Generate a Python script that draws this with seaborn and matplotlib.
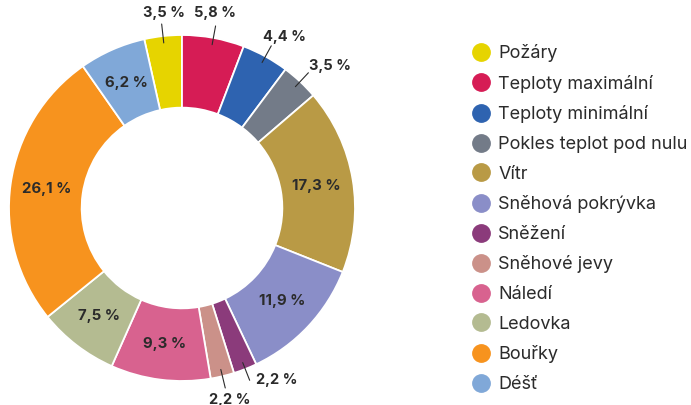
import numpy as np
import matplotlib
matplotlib.use("Agg")
import matplotlib.pyplot as plt
import seaborn as sns
from matplotlib.lines import Line2D

# data
categories = ["Požáry", "Teploty maximální", "Teploty minimální", "Pokles teplot pod nulu",
              "Vítr", "Sněhová pokrývka", "Sněžení", "Sněhové jevy", "Náledí",
              "Ledovka", "Bouřky", "Déšť"]
values = [3.5, 5.8, 4.4, 3.5, 17.3, 11.9, 2.2, 2.2, 9.3, 7.5, 26.1, 6.2]
labels = ["3,5 %", "5,8 %", "4,4 %", "3,5 %", "17,3 %", "11,9 %", "2,2 %", "2,2 %",
          "9,3 %", "7,5 %", "26,1 %", "6,2 %"]
colors = ["#e6d400", "#d61c55", "#2e63b0", "#737b88", "#b99a45", "#8a8ec8",
          "#8b3b7b", "#cb9189", "#d8628f", "#b4bb91", "#f7931e", "#80a8d8"]
outside = [True, True, True, True, False, False, True, True, False, False, False, False]
# nudge of outside labels from end of leader line (pixels)
label_nudge = [(2, 11), (-1, 13), (13, 9), (22, 7), None, None, (27, 0), (4, -12),
               None, None, None, None]

sns.set_theme(style="white")
plt.rcParams['font.family'] = ['Inter', 'DejaVu Sans']
txt = "#2b2b2b"

R = 173  # pie radius in px
fig = plt.figure(figsize=(6.91, 4.05), dpi=100)
ax = fig.add_axes([9 / 691, 24 / 405, 346 / 691, 346 / 405])

start = 90 + values[0] / sum(values) * 360
wedges, _ = ax.pie(values, colors=colors, startangle=start, counterclock=False,
                   radius=1.0, wedgeprops=dict(width=0.42, edgecolor="white", linewidth=1.3))
ax.set_xlim(-1, 1)
ax.set_ylim(-1, 1)
ax.set_aspect("equal")
ax.axis("off")

for w, lab, out, nud in zip(wedges, labels, outside, label_nudge):
    ang = np.deg2rad((w.theta1 + w.theta2) / 2)
    c, s = np.cos(ang), np.sin(ang)
    if out:
        ax.plot([0.96 * c, 1.07 * c], [0.96 * s, 1.07 * s], color=txt, lw=0.8, clip_on=False)
        ax.text(1.07 * c + nud[0] / R, 1.07 * s + nud[1] / R, lab, ha="center", va="center",
                fontsize=10.5, fontweight="bold", color=txt, clip_on=False)
    else:
        ax.text(0.79 * c, 0.79 * s, lab, ha="center", va="center", fontsize=10.8,
                fontweight="bold", color=txt)

handles = [Line2D([], [], marker="o", linestyle="none", markersize=12.5,
                  markerfacecolor=col, markeredgecolor=col) for col in colors]
fig.legend(handles, categories, loc="upper left", bbox_to_anchor=(472 / 691, 1 - 44 / 405),
           frameon=False, fontsize=13, labelspacing=0.70, handletextpad=0.45,
           handlelength=1.0, labelcolor=txt, borderaxespad=0, borderpad=0)

fig.savefig("out.png", dpi=100)
